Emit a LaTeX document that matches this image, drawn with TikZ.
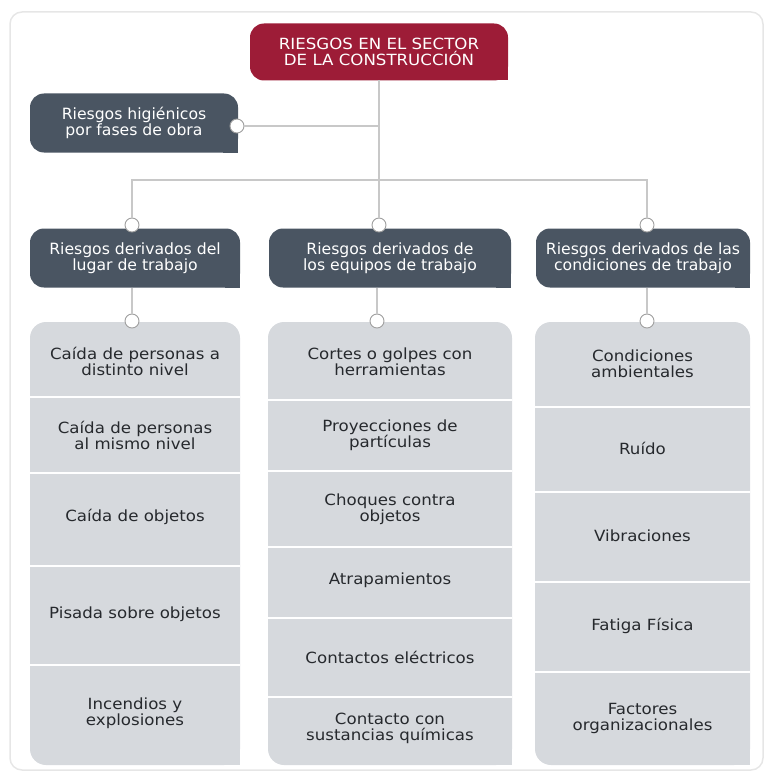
\documentclass[tikz,border=0pt]{standalone}
\usepackage{fontspec}
\setmainfont[FakeStretch=1.08]{DejaVu Sans}
\newfontfamily\headfont[FakeStretch=1.01]{DejaVu Sans}
\usepackage{tikz}
\usetikzlibrary{positioning}

\definecolor{rootred}{HTML}{9D1C37}
\definecolor{slate}{HTML}{4A5562}
\definecolor{rowgray}{HTML}{D6D9DD}
\definecolor{linkgray}{HTML}{C8C8C8}
\definecolor{framegray}{HTML}{E6E6E6}
\definecolor{inkgray}{HTML}{26292D}

\tikzset{
  cutcorner/.style={outer sep=0pt, append after command={\pgfextra{\fill[#1, sharp corners] (\tikzlastnode.south east) rectangle ++(-15pt,15pt);}}},
  rootbox/.style={rectangle, fill=rootred, text=white, rounded corners=14pt, minimum width=258pt, minimum height=57pt, align=center, font=\fontsize{15.4}{15.5}\selectfont, cutcorner=rootred},
  headbox/.style={rectangle, fill=slate, text=white, rounded corners=14pt, minimum height=59pt, align=center, font=\headfont\fontsize{15.5}{16}\selectfont, cutcorner=slate},
  colbox/.style={rectangle, fill=rowgray, rounded corners=16pt, minimum height=443pt, cutcorner=rowgray},
  item/.style={align=center, text=inkgray, font=\fontsize{15.4}{16}\selectfont},
  link/.style={draw=linkgray, line width=1.6pt},
  knob/.style={circle, draw=gray!75, fill=white, line width=0.9pt, minimum size=14pt, inner sep=0pt},
  divider/.style={draw=white, line width=2.5pt}
}

\begin{document}
\begin{tikzpicture}[x=1pt, y=-1pt]
  \useasboundingbox (0,0) rectangle (766,773);
  \draw[framegray, line width=1.5pt, rounded corners=12pt] (10,12) rectangle (763,770);

  % top of the tree
  \node[rootbox] (root) at (379,52) {RIESGOS EN EL SECTOR\\DE LA CONSTRUCCIÓN};
  \node[headbox, minimum width=208pt] (fases) at (134,123) {Riesgos higiénicos\\por fases de obra};

  % three branches
  \node[headbox, minimum width=210pt] (lugar) at (135,258) {Riesgos derivados del\\lugar de trabajo};
  \node[headbox, minimum width=242pt] (equipos) at (390,258) {Riesgos derivados de\\los equipos de trabajo};
  \node[headbox, minimum width=214pt] (condic) at (643,258) {Riesgos derivados de las\\condiciones de trabajo};

  \node[colbox, minimum width=210pt] (colA) at (135,543.5) {};
  \node[colbox, minimum width=244pt] (colB) at (390,543.5) {};
  \node[colbox, minimum width=215pt] (colC) at (642.5,543.5) {};

  \foreach \y in {397,473,566,665} \draw[divider] (colA.west |- 0,\y) -- (colA.east |- 0,\y);
  \foreach \y in {400,471,547,618,697} \draw[divider] (colB.west |- 0,\y) -- (colB.east |- 0,\y);
  \foreach \y in {407,492,582,672} \draw[divider] (colC.west |- 0,\y) -- (colC.east |- 0,\y);

  % items
  \node[item] (a1) at (135,361) {Caída de personas a\\distinto nivel};
  \node[item] (a2) at (135,435) {Caída de personas\\al mismo nivel};
  \node[item] (a3) at (135,517) {Caída de objetos};
  \node[item] (a4) at (135,614) {Pisada sobre objetos};
  \node[item] (a5) at (135,713) {Incendios y\\explosiones};

  \node[item] (b1) at (390,362) {Cortes o golpes con\\herramientas};
  \node[item] (b2) at (390,435) {Proyecciones de\\partículas};
  \node[item] (b3) at (390,509) {Choques contra\\objetos};
  \node[item] (b4) at (390,580) {Atrapamientos};
  \node[item] (b5) at (390,657) {Contactos eléctricos};
  \node[item] (b6) at (390,728) {Contacto con\\sustancias químicas};

  \node[item] (c1) at (642.5,364) {Condiciones\\ambientales};
  \node[item] (c2) at (642.5,448) {Ruído};
  \node[item] (c3) at (642.5,536) {Vibraciones};
  \node[item] (c4) at (642.5,626) {Fatiga Física};
  \node[item] (c5) at (642.5,718) {Factores\\organizacionales};

  % knobs
  \node[knob] (kfase) at (237,126) {};
  \node[knob] (ktopA) at (132,225) {};
  \node[knob] (ktopB) at (379,225) {};
  \node[knob] (ktopC) at (647,225) {};
  \node[knob] (kbotA) at (132,321) {};
  \node[knob] (kbotB) at (377,321) {};
  \node[knob] (kbotC) at (647,321) {};

  \coordinate (hub) at (379,126);
  \coordinate (bus) at (379,180);

  % connectors
  \draw[link] (root.south) -- (bus);
  \draw[link] (kfase) -- (hub);
  \draw[link] (ktopA) |- (bus) -| (ktopC);
  \draw[link] (bus) -- (ktopB);
  \draw[link] (lugar.south -| kbotA) -- (kbotA);
  \draw[link] (equipos.south -| kbotB) -- (kbotB);
  \draw[link] (condic.south -| kbotC) -- (kbotC);
\end{tikzpicture}
\end{document}
